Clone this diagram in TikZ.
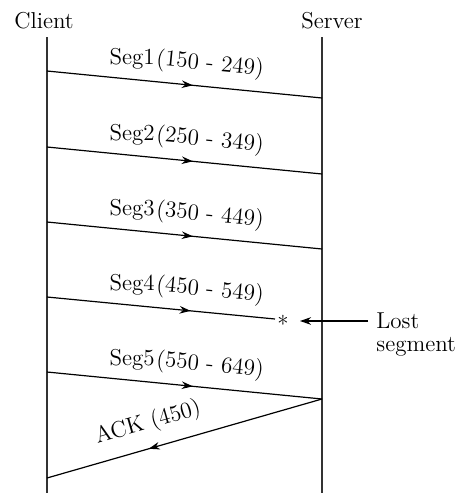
\documentclass[tikz,border=0pt]{standalone}
\usetikzlibrary{decorations.markings,arrows.meta}
\begin{document}
\begin{tikzpicture}[x=0.5pt,y=-0.5pt,
  lbl/.style={font=\fontsize{11.5}{13}\selectfont, inner sep=0pt},
  life/.style={draw=black!80, line width=0.6pt},
  msg/.style={line width=0.6pt, postaction={decorate},
    decoration={markings, mark=at position #1 with {\arrow{Stealth[length=5.5pt,width=3.8pt]}}}},
  msg/.default=0.53]
\useasboundingbox (0,0) rectangle (462,493);
\node[lbl] (client) at (44,21) {Client};
\node[lbl] (server) at (332,21) {Server};
\coordinate (ct) at (47,37); \coordinate (cb) at (47,493);
\coordinate (st) at (322,37); \coordinate (sb) at (322,493);
\draw[life] (ct) -- (cb);
\draw[life] (st) -- (sb);
\foreach \i/\y/\a/\b in {1/71/150/249, 2/147/250/349, 3/222/350/449, 4/297/450/549, 5/372/550/649}{
  \coordinate (c\i) at (47,\y);
  \coordinate (s\i) at (322,\y+27);
  \node[lbl, anchor=base east] (seg\i) at (155,\y-7) {Seg\i};
  \node[lbl, rotate=-5.6, anchor=base west] (num\i) at (155.5,\y-6) {(\a\ - \b)};
}
\draw[msg] (c1) -- (s1);
\draw[msg] (c2) -- (s2);
\draw[msg] (c3) -- (s3);
\coordinate (lostend) at (275,319);
\draw[msg=0.63] (c4) -- (lostend);
\node[lbl] (star) at (283,324) {*};
\draw[msg] (c5) -- (s5);
\coordinate (cack) at (47,478);
\draw[msg=0.63] (s5) -- (cack);
\node[lbl, rotate=16] (ack) at (148,423) {ACK (450)};
\node[lbl, anchor=west] (lost) at (376,321) {Lost};
\node[lbl, anchor=west] (segm) at (376,347) {segment};
\coordinate (lastart) at (368,321);
\coordinate (latip) at (300,321);
\draw[line width=0.6pt, -{Stealth[length=5.5pt,width=3.8pt]}] (lastart) -- (latip);
\end{tikzpicture}
\end{document}
